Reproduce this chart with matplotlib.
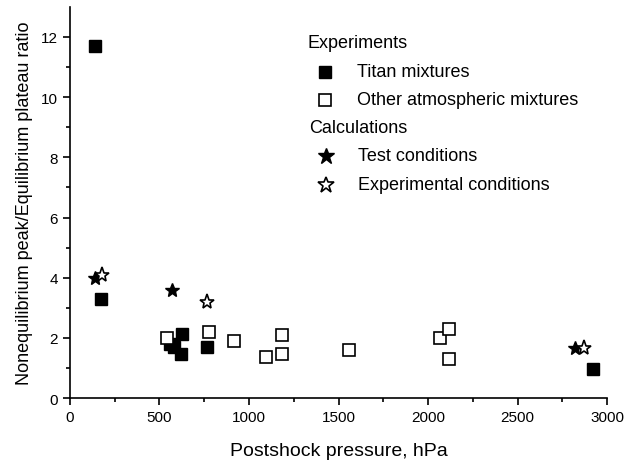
import matplotlib
matplotlib.use('Agg')
import matplotlib.pyplot as plt

plt.rcParams['font.family'] = ['Liberation Sans', 'DejaVu Sans']

# Experiments
titan_p = [140, 173, 560, 580, 626, 620, 763, 2923]
titan_r = [11.7, 3.3, 1.8, 1.7, 2.12, 1.48, 1.68, 0.98]

other_p = [544, 777, 915, 1093, 1184, 1184, 1561, 2069, 2117, 2117]
other_r = [1.98, 2.2, 1.88, 1.38, 2.09, 1.48, 1.59, 1.98, 2.29, 1.3]

# Calculations
test_p = [140, 568, 2821]
test_r = [4.0, 3.59, 1.66]

expcond_p = [181, 763, 2868]
expcond_r = [4.09, 3.18, 1.66]


def main():
    fig = plt.figure(figsize=(6.24, 4.64), dpi=100)
    ax = fig.add_axes([0.112, 0.14, 0.861, 0.843])

    ax.plot(titan_p, titan_r, 's', color='black', markersize=8.5, linestyle='none')
    ax.plot(other_p, other_r, 's', markerfacecolor='white', markeredgecolor='black',
            markeredgewidth=1.2, markersize=8, linestyle='none')
    ax.plot(test_p, test_r, '*', color='black', markersize=10, linestyle='none')
    ax.plot(expcond_p, expcond_r, '*', markerfacecolor='white', markeredgecolor='black',
            markeredgewidth=1.2, markersize=11, linestyle='none')

    ax.set_xlim(0, 3000)
    ax.set_ylim(0, 13)
    ax.set_xticks(range(0, 3001, 500))
    ax.set_xticks(range(250, 3000, 500), minor=True)
    ax.set_yticks(range(0, 13, 2))
    ax.set_yticks(range(1, 13, 2), minor=True)
    ax.spines['top'].set_visible(False)
    ax.spines['right'].set_visible(False)
    for s in ('left', 'bottom'):
        ax.spines[s].set_linewidth(1.2)
    ax.tick_params(which='major', direction='out', length=5, width=1.2, labelsize=11)
    ax.tick_params(which='minor', direction='out', length=3, width=1.2)

    ax.set_xlabel('Postshock pressure, hPa', fontsize=14, labelpad=13)
    ax.set_ylabel('Nonequilibrium peak/Equilibrium plateau ratio', fontsize=13, labelpad=6)

    # hand-built legend with section headers
    tr = ax.transAxes
    def fx(px):
        return (px - 70) / 537.0
    def fy(py):
        return (399 - py) / 391.0

    fs = 13
    ax.text(fx(307), fy(44), 'Experiments', transform=tr, fontsize=fs, va='center')
    ax.plot([fx(325)], [fy(73)], 's', color='black', markersize=8, transform=tr, clip_on=False)
    ax.text(fx(357), fy(73), 'Titan mixtures', transform=tr, fontsize=fs, va='center')
    ax.plot([fx(325)], [fy(101)], 's', markerfacecolor='white', markeredgecolor='black',
            markeredgewidth=1.2, markersize=8, transform=tr, clip_on=False)
    ax.text(fx(357), fy(101), 'Other atmospheric mixtures', transform=tr, fontsize=fs, va='center')
    ax.text(fx(309), fy(129), 'Calculations', transform=tr, fontsize=fs, va='center')
    ax.plot([fx(326)], [fy(157)], '*', color='black', markersize=12, transform=tr, clip_on=False)
    ax.text(fx(358), fy(157), 'Test conditions', transform=tr, fontsize=fs, va='center')
    ax.plot([fx(326)], [fy(186)], '*', markerfacecolor='white', markeredgecolor='black',
            markeredgewidth=1.2, markersize=12, transform=tr, clip_on=False)
    ax.text(fx(358), fy(186), 'Experimental conditions', transform=tr, fontsize=fs, va='center')

    fig.savefig('out.png', dpi=100)
    plt.close(fig)


if __name__ == '__main__':
    main()
